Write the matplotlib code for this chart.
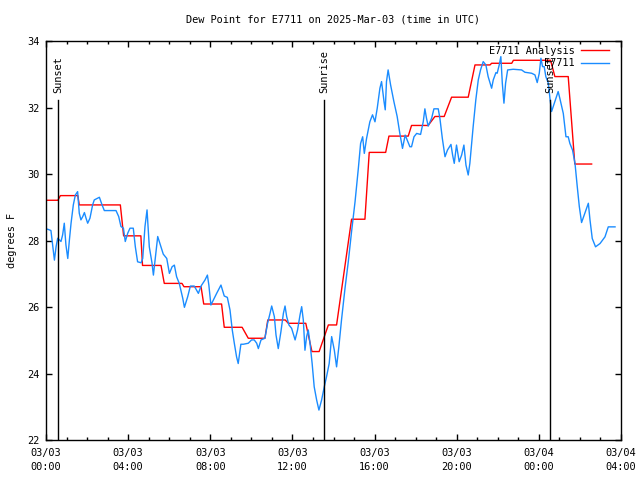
import matplotlib
matplotlib.use("Agg")
import matplotlib.pyplot as plt
import matplotlib.dates as mdates
import pandas as pd

# ---------------- data ----------------
start = pd.Timestamp("2025-03-03 00:00")
end = pd.Timestamp("2025-03-04 04:00")

# Analysis series (hours since start, degrees F)
analysis_hours = [0.0, 0.58, 0.70, 1.55, 1.62, 3.62, 3.78, 4.62, 4.70, 5.60, 5.76,
                  6.62, 6.72, 7.55, 7.68, 8.55, 8.68, 9.55, 9.85, 10.66, 10.80,
                  11.65, 11.80, 12.65, 12.95, 13.30, 13.75, 14.15, 14.88, 15.53,
                  15.74, 16.54, 16.70, 17.64, 17.80, 18.61, 18.94, 19.39, 19.75,
                  20.56, 20.89, 21.62, 21.70, 22.68, 22.76, 24.57, 24.78, 25.43,
                  25.75, 26.57]
analysis_vals = [29.21, 29.21, 29.35, 29.35, 29.07, 29.07, 28.14, 28.14, 27.25, 27.25,
                 26.71, 26.71, 26.61, 26.61, 26.09, 26.09, 25.39, 25.39, 25.06, 25.06,
                 25.61, 25.61, 25.51, 25.51, 24.66, 24.66, 25.46, 25.46, 28.64, 28.64,
                 30.65, 30.65, 31.14, 31.14, 31.46, 31.46, 31.73, 31.73, 32.31, 32.31,
                 33.28, 33.28, 33.33, 33.33, 33.42, 33.42, 32.93, 32.93, 30.30, 30.30]

# Observed series (hours since start, degrees F)
obs_hours = [0.00, 0.08, 0.24, 0.32, 0.41, 0.49, 0.57, 0.65, 0.73, 0.81, 0.89, 0.97,
             1.06, 1.14, 1.22, 1.33, 1.43, 1.54, 1.62, 1.70, 1.79, 1.87, 1.95, 2.03,
             2.14, 2.27, 2.35, 2.60, 2.73, 2.84, 3.41, 3.54, 3.65, 3.77, 3.86, 3.98,
             4.09, 4.25, 4.35, 4.46, 4.63, 4.71, 4.82, 4.92, 5.03, 5.16, 5.23, 5.31,
             5.44, 5.60, 5.71, 5.88, 6.01, 6.14, 6.25, 6.36, 6.49, 6.66, 6.74, 6.90,
             7.03, 7.22, 7.42, 7.55, 7.74, 7.86, 7.93, 8.03, 8.15, 8.31, 8.52, 8.68,
             8.83, 8.96, 9.07, 9.17, 9.28, 9.36, 9.49, 9.61, 9.85, 10.01, 10.14, 10.26,
             10.34, 10.47, 10.66, 10.79, 10.91, 10.99, 11.12, 11.20, 11.31, 11.44,
             11.56, 11.64, 11.72, 11.83, 11.96, 12.13, 12.25, 12.37, 12.45, 12.53,
             12.61, 12.69, 12.77, 12.85, 12.96, 13.06, 13.18, 13.29, 13.42, 13.55,
             13.66, 13.79, 13.91, 14.04, 14.15, 14.26, 14.39, 14.56, 14.72, 14.88,
             15.05, 15.21, 15.32, 15.42, 15.50, 15.61, 15.77, 15.90, 16.02, 16.13,
             16.26, 16.34, 16.46, 16.52, 16.58, 16.66, 16.78, 16.94, 17.10, 17.23,
             17.36, 17.49, 17.59, 17.72, 17.80, 17.92, 18.05, 18.24, 18.37, 18.45,
             18.53, 18.61, 18.78, 18.89, 19.10, 19.18, 19.30, 19.43, 19.55, 19.72,
             19.80, 19.88, 19.99, 20.12, 20.24, 20.35, 20.45, 20.56, 20.64, 20.80,
             20.93, 21.05, 21.16, 21.29, 21.42, 21.53, 21.70, 21.78, 21.91, 21.97,
             22.07, 22.15, 22.22, 22.30, 22.38, 22.48, 22.75, 23.16, 23.32, 23.65,
             23.81, 23.92, 24.02, 24.10, 24.18, 24.26, 24.34, 24.46, 24.54, 24.62,
             24.70, 24.81, 24.94, 25.02, 25.19, 25.32, 25.43, 25.51, 25.64, 25.76,
             25.87, 25.97, 26.08, 26.24, 26.41, 26.49, 26.60, 26.76, 26.98, 27.22,
             27.38, 27.71]
obs_vals = [28.34, 28.34, 28.30, 27.87, 27.41, 27.81, 28.07, 28.02, 27.97, 28.17, 28.52,
            27.87, 27.46, 28.02, 28.52, 29.07, 29.37, 29.47, 28.82, 28.62, 28.72, 28.84,
            28.67, 28.52, 28.67, 29.07, 29.22, 29.30, 29.07, 28.90, 28.90, 28.72, 28.42,
            28.37, 27.97, 28.22, 28.37, 28.37, 27.81, 27.36, 27.33, 27.46, 28.42, 28.92,
            27.81, 27.33, 26.96, 27.41, 28.12, 27.81, 27.59, 27.46, 27.01, 27.21, 27.26,
            26.91, 26.71, 26.26, 25.99, 26.31, 26.63, 26.63, 26.41, 26.63, 26.81, 26.96,
            26.66, 26.06, 26.21, 26.41, 26.66, 26.33, 26.29, 25.91, 25.31, 24.91, 24.50,
            24.30, 24.88, 24.88, 24.91, 25.01, 25.01, 24.91, 24.75, 25.01, 25.06, 25.51,
            25.81, 26.03, 25.71, 25.16, 24.75, 25.26, 25.81, 26.03, 25.71, 25.46, 25.36,
            25.01, 25.31, 25.76, 26.01, 25.61, 24.70, 25.11, 25.31, 24.95, 24.30, 23.60,
            23.20, 22.90, 23.20, 23.60, 23.90, 24.30, 25.11, 24.70, 24.20, 24.80, 25.61,
            26.56, 27.36, 28.27, 29.17, 30.17, 30.92, 31.12, 30.62, 31.07, 31.57, 31.78,
            31.57, 31.98, 32.58, 32.78, 32.18, 31.93, 32.78, 33.13, 32.68, 32.18, 31.73,
            31.22, 30.77, 31.17, 31.02, 30.82, 30.82, 31.12, 31.22, 31.19, 31.57, 31.96,
            31.67, 31.44, 31.68, 31.96, 31.96, 31.68, 31.07, 30.52, 30.72, 30.89, 30.57,
            30.32, 30.87, 30.37, 30.57, 30.87, 30.27, 29.97, 30.32, 31.42, 32.23, 32.83,
            33.13, 33.38, 33.28, 32.93, 32.58, 32.83, 33.05, 33.03, 33.28, 33.53, 32.73,
            32.13, 32.73, 33.13, 33.15, 33.13, 33.06, 33.03, 32.98, 32.75, 33.03, 33.48,
            33.23, 33.23, 32.93, 32.73, 32.28, 31.88, 32.03, 32.23, 32.48, 32.28, 31.82,
            31.12, 31.12, 30.92, 30.72, 30.32, 29.62, 29.02, 28.54, 28.82, 29.12, 28.62,
            28.06, 27.81, 27.91, 28.11, 28.41, 28.41]

event_labels = ["Sunset", "Sunrise", "Sunset"]
event_hours = [0.58, 13.53, 24.54]

series_labels = ["E7711 Analysis", "E7711"]
title = "Dew Point for E7711 on 2025-Mar-03 (time in UTC)"
ylabel = "degrees F"
y_ticks = [22, 24, 26, 28, 30, 32, 34]

# ---------------- plot ----------------
FONT = "DejaVu Sans Mono"
FS = 7.4
plt.rcParams["font.family"] = [FONT, "DejaVu Sans"]

def to_time(hours):
    return start + pd.to_timedelta(hours, unit="h")

fig = plt.figure(figsize=(6.4, 4.8), dpi=100)
ax = fig.add_axes([46 / 640, 40 / 480, (621 - 46) / 640, (440 - 41) / 480])

ax.plot(to_time(analysis_hours), analysis_vals, color="#ff0000", lw=1.0,
        label=series_labels[0])
ax.plot(to_time(obs_hours), obs_vals, color="#1a8cff", lw=1.0,
        label=series_labels[1])

for lab, h in zip(event_labels, event_hours):
    t = to_time(h)
    ax.axvline(t, ymin=0, ymax=(440 - 100) / 399, color="black", lw=1.0)
    ax.text(t, (440 - 93) / 399, lab, rotation=90, ha="center", va="bottom",
            transform=ax.get_xaxis_transform(), fontsize=FS, family=FONT)

ax.set_xlim(start, end)
ax.set_ylim(y_ticks[0], y_ticks[-1])
ax.set_yticks(y_ticks)
ax.set_yticklabels([str(v) for v in y_ticks])

ax.xaxis.set_major_locator(mdates.HourLocator(byhour=range(0, 24, 4)))
ax.xaxis.set_minor_locator(mdates.HourLocator())
ax.xaxis.set_major_formatter(mdates.DateFormatter("%m/%d\n%H:%M"))

ax.tick_params(which="both", direction="in", top=True, right=True,
               labelsize=FS, colors="black", width=1.0)
ax.tick_params(which="major", length=4.5, pad=5)
ax.tick_params(axis="x", which="major", pad=6)
ax.tick_params(axis="x", which="minor", length=2.5)
for lab in ax.get_xticklabels() + ax.get_yticklabels():
    lab.set_family(FONT)
    lab.set_linespacing(1.5)
for sp in ax.spines.values():
    sp.set_linewidth(1.0)
    sp.set_color("black")

ax.set_title(title, fontsize=FS, family=FONT, pad=13)
ax.set_ylabel(ylabel, fontsize=FS, family=FONT, labelpad=7)

leg = ax.legend(loc="upper right", bbox_to_anchor=(1 - 7 / 575, 1.0),
                frameon=False, markerfirst=False,
                fontsize=FS, handlelength=2.8, handletextpad=0.6,
                labelspacing=0.25, borderaxespad=0.05,
                prop={"family": FONT, "size": FS})

fig.savefig("out.png", dpi=100)
